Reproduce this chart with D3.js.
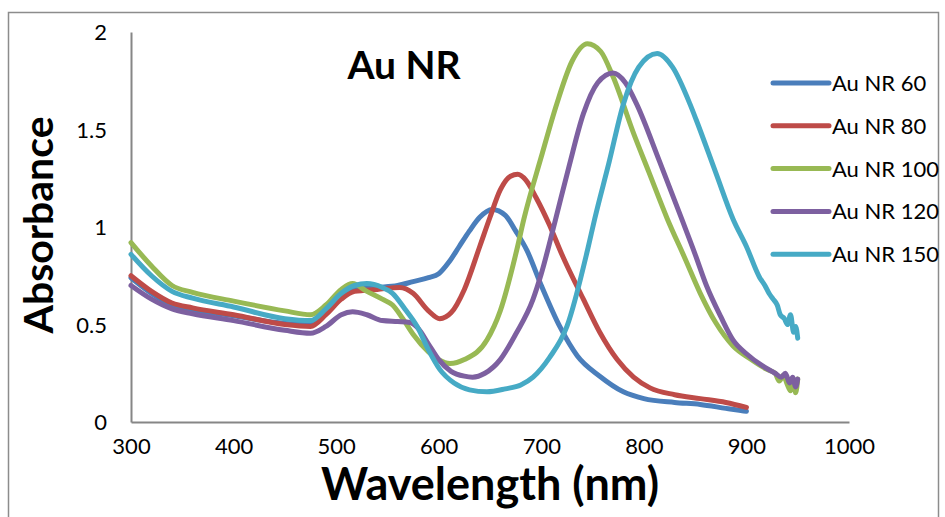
<!DOCTYPE html>
<html lang="en-US">
<head>
<meta charset="utf-8">
<script src="https://d3js.org/d3.v7.min.js"></script>
<style>
    body { margin: 0; background: #fff; }
    svg text { font-family: Lato, "Open Sans", sans-serif; fill: #000; }
</style>
</head>
<body>
<svg width="945" height="517"></svg>

<script>
// spectra: [wavelength nm, absorbance]
var nr60 = [[300,.74],[320,.66],[340,.60],[360,.575],[400,.545],[450,.505],[475,.50],[490,.56],[505,.64],[520,.68],
    [540,.69],[560,.70],[575,.72],[590,.74],[600,.76],[610,.82],[620,.90],[630,.98],[640,1.05],[652,1.09],[665,1.06],
    [675,.98],[686,.88],[700,.70],[718,.49],[735,.34],[757,.235],[780,.155],[800,.12],[830,.10],[855,.09],[880,.07],[893,.06],[900,.055]];
var nr80 = [[300,.75],[320,.67],[340,.61],[360,.585],[400,.55],[450,.50],[475,.49],[490,.55],[505,.63],[518,.67],
    [540,.68],[562,.69],[575,.66],[590,.57],[601,.53],[612,.56],[625,.68],[640,.90],[650,1.05],[660,1.19],[670,1.26],
    [677,1.27],[685,1.24],[695,1.15],[708,1.01],[720,.86],[741,.63],[757,.46],[774,.32],[790,.23],[806,.175],[830,.14],
    [855,.12],[880,.10],[900,.075]];
var nr100 = [[300,.92],[320,.80],[340,.70],[360,.665],[400,.62],[450,.57],[475,.55],[490,.60],[505,.68],[516,.71],
    [530,.67],[545,.63],[555,.60],[565,.53],[575,.45],[590,.36],[600,.32],[611,.30],[625,.32],[647,.42],[660,.57],
    [676,.88],[683,1.04],[700,1.36],[715,1.63],[730,1.85],[745,1.94],[758,1.90],[770,1.77],[790,1.48],[805,1.28],
    [823,1.04],[840,.84],[855,.66],[870,.51],[887,.39],[905,.32],[920,.27],[928,.25],[932,.21],[936,.24],[940,.19],
    [943,.16],[946,.20],[948,.15],[950,.22]];
var nr120 = [[300,.70],[320,.63],[340,.58],[360,.555],[400,.52],[450,.47],[475,.455],[490,.49],[505,.55],[516,.565],
    [530,.55],[545,.52],[560,.515],[572,.51],[580,.48],[590,.40],[600,.32],[612,.26],[625,.235],[633,.23],[645,.25],
    [660,.32],[675,.45],[692,.63],[700,.76],[713,1.02],[727,1.31],[741,1.58],[755,1.74],[770,1.79],[782,1.74],[793,1.63],
    [815,1.34],[837,1.04],[850,.86],[861,.70],[875,.54],[887,.42],[900,.35],[915,.29],[928,.25],[934,.23],[938,.25],
    [942,.20],[945,.23],[948,.18],[950,.22]];
var nr150 = [[300,.86],[320,.75],[340,.67],[360,.635],[400,.59],[450,.53],[475,.52],[490,.58],[505,.66],[518,.70],
    [530,.71],[545,.69],[555,.66],[567,.58],[579,.49],[590,.37],[601,.27],[615,.20],[630,.165],[647,.155],[665,.17],
    [680,.19],[692,.23],[708,.33],[725,.49],[745,.88],[752,1.04],[766,1.33],[780,1.63],[795,1.82],[813,1.89],[828,1.82],
    [845,1.63],[851,1.55],[870,1.28],[887,1.04],[900,.90],[913,.74],[918,.70],[922,.66],[926,.63],[930,.60],[933,.55],
    [937,.53],[940,.50],[943,.55],[946,.46],[948,.49],[950,.43]];

var seriesNames = ["Au NR 60", "Au NR 80", "Au NR 100", "Au NR 120", "Au NR 150"];
var seriesData = [nr60, nr80, nr100, nr120, nr150];
var seriesColors = ["#4a7ebb", "#be4b48", "#98b954", "#7d60a0", "#46aac5"];
var xTicks = [300, 400, 500, 600, 700, 800, 900, 1000];
var yTicks = [0, 0.5, 1, 1.5, 2];

var svg = d3.select("svg");

// chart border
svg.append("rect")
    .attr("x", 8.5).attr("y", 12.5)
    .attr("width", 930).attr("height", 520)
    .attr("fill", "none")
    .attr("stroke", "#8c8c8c")
    .attr("stroke-width", 1.5);

var x = d3.scaleLinear().domain([300, 1000]).range([131, 849]);
var y = d3.scaleLinear().domain([0, 2]).range([422, 32]);

var xAxis = svg.append("g")
    .attr("transform", "translate(0,422)")
    .call(d3.axisBottom(x).tickValues(xTicks).tickSize(0).tickPadding(16).tickFormat(d3.format("d")));
var yAxis = svg.append("g")
    .attr("transform", "translate(131,0)")
    .call(d3.axisLeft(y).tickValues(yTicks).tickSize(0).tickPadding(24).tickFormat(d => String(d)));

[xAxis, yAxis].forEach(function(a) {
    a.select(".domain").attr("stroke", "#868686").attr("stroke-width", 2);
    a.selectAll("text").attr("font-size", 22).attr("font-family", "Lato, sans-serif");
});
xAxis.selectAll("text").attr("dy", "0.71em");
yAxis.selectAll("text").attr("dy", "0.36em");

var line = d3.line()
    .x(d => x(d[0]))
    .y(d => y(d[1]))
    .curve(d3.curveMonotoneX);

svg.append("g").selectAll("path")
    .data(seriesData)
    .enter().append("path")
    .attr("d", line)
    .attr("fill", "none")
    .attr("stroke", (d, i) => seriesColors[i])
    .attr("stroke-width", 5)
    .attr("stroke-linejoin", "round")
    .attr("stroke-linecap", "round");

// titles
svg.append("text")
    .attr("x", 404).attr("y", 79)
    .attr("text-anchor", "middle")
    .attr("font-size", 39).attr("font-weight", "bold")
    .text("Au NR");

svg.append("text")
    .attr("x", 490).attr("y", 500)
    .attr("text-anchor", "middle")
    .attr("font-size", 45).attr("font-weight", "bold")
    .text("Wavelength (nm)");

svg.append("text")
    .attr("transform", "translate(53,225) rotate(-90)")
    .attr("text-anchor", "middle")
    .attr("font-size", 41).attr("font-weight", "bold")
    .text("Absorbance");

// legend
var legend = svg.append("g").selectAll("g")
    .data(seriesNames)
    .enter().append("g")
    .attr("transform", (d, i) => `translate(773,${83 + i * 42.8})`);

legend.append("line")
    .attr("x1", 0).attr("x2", 56)
    .attr("stroke", (d, i) => seriesColors[i])
    .attr("stroke-width", 5)
    .attr("stroke-linecap", "round");

legend.append("text")
    .attr("x", 59)
    .attr("dy", "0.36em")
    .attr("font-size", 22)
    .text(d => d);
</script>
</body>
</html>
